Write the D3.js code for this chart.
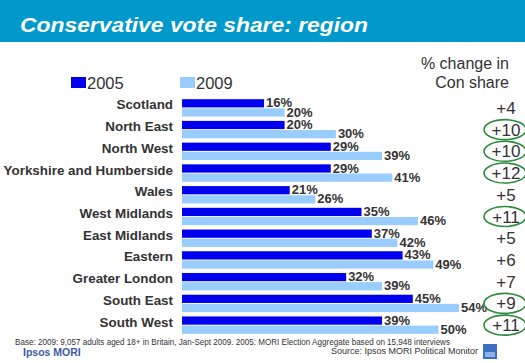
<!DOCTYPE html>
<html>
<head>
<meta charset="utf-8">
<script src="https://cdn.jsdelivr.net/npm/d3@7"></script>
<style>
  body { margin: 0; background: #fff; }
  svg { display: block; font-family: Arial, "Liberation Sans", sans-serif; }
</style>
</head>
<body>
<div id="chart"></div>
<script>
// data
const regions = ['Scotland', 'North East', 'North West', 'Yorkshire and Humberside', 'Wales',
  'West Midlands', 'East Midlands', 'Eastern', 'Greater London', 'South East', 'South West'];
const share2005 = [16, 20, 29, 29, 21, 35, 37, 43, 32, 45, 39];
const share2009 = [20, 30, 39, 41, 26, 46, 42, 49, 39, 54, 50];
const changeLabels = ['+4', '+10', '+10', '+12', '+5', '+11', '+5', '+6', '+7', '+9', '+11'];
const circled = [false, true, true, true, false, true, false, false, false, true, true];
const years = ['2005', '2009'];

const width = 525, height = 363;
const colors = { '2005': '#0000ee', '2009': '#99ccff' };

const svg = d3.select('#chart').append('svg')
  .attr('width', width)
  .attr('height', height);

// title band
svg.append('rect').attr('x', 0).attr('y', 0).attr('width', width).attr('height', 42).attr('fill', '#0099cc');
svg.append('text')
  .attr('x', 20).attr('y', 32)
  .attr('fill', '#fff')
  .attr('font-size', 21).attr('font-weight', 'bold').attr('font-style', 'italic')
  .attr('textLength', 348).attr('lengthAdjust', 'spacingAndGlyphs')
  .text('Conservative vote share: region');

// scales
const x = d3.scaleLinear().domain([0, 54]).range([182, 459]);
const y = d3.scaleBand().domain(regions).range([97, 336]).paddingInner(0.2).paddingOuter(0.1);
const ySub = d3.scaleBand().domain(years).range([0, y.bandwidth()]).paddingInner(0.1);

const rows = regions.map((r, i) => ({
  region: r,
  values: [{ year: '2005', v: share2005[i] }, { year: '2009', v: share2009[i] }],
  change: changeLabels[i],
  circled: circled[i]
}));

const row = svg.selectAll('g.row').data(rows).enter().append('g')
  .attr('class', 'row')
  .attr('transform', d => `translate(0,${y(d.region)})`);

// category labels
row.append('text')
  .attr('x', 173)
  .attr('y', y.bandwidth() / 2 + 1.5)
  .attr('text-anchor', 'end')
  .attr('font-size', 13.4).attr('font-weight', 'bold')
  .attr('fill', '#333')
  .text(d => d.region);

// bars
row.selectAll('rect').data(d => d.values).enter().append('rect')
  .attr('x', x(0))
  .attr('y', d => ySub(d.year))
  .attr('width', d => x(d.v) - x(0))
  .attr('height', ySub.bandwidth())
  .attr('fill', d => colors[d.year]);

// value labels
row.selectAll('text.val').data(d => d.values).enter().append('text')
  .attr('class', 'val')
  .attr('x', d => x(d.v) + 2)
  .attr('y', d => ySub(d.year) + ySub.bandwidth())
  .attr('font-size', 13).attr('font-weight', 'bold')
  .attr('fill', '#333')
  .text(d => d.v + '%');

// change column
row.append('text')
  .attr('x', 506)
  .attr('y', y.bandwidth() / 2 + 6)
  .attr('text-anchor', 'middle')
  .attr('font-size', 17)
  .attr('fill', '#333')
  .text(d => d.change);

row.filter(d => d.circled).append('ellipse')
  .attr('cx', 505)
  .attr('cy', y.bandwidth() / 2)
  .attr('rx', 21).attr('ry', 10)
  .attr('fill', 'none')
  .attr('stroke', '#2e8b3e')
  .attr('stroke-width', 1.6);

// column header
svg.append('text').attr('x', 509).attr('y', 69).attr('text-anchor', 'end')
  .attr('font-size', 16).attr('fill', '#333').text('% change in');
svg.append('text').attr('x', 509).attr('y', 88).attr('text-anchor', 'end')
  .attr('font-size', 16).attr('fill', '#333').text('Con share');

// legend
const legend = svg.selectAll('g.legend').data(years).enter().append('g')
  .attr('class', 'legend')
  .attr('transform', (d, i) => `translate(${71 + i * 109},77)`);
legend.append('rect').attr('width', 15).attr('height', 11).attr('fill', d => colors[d]);
legend.append('text').attr('x', 16).attr('y', 12)
  .attr('font-size', 16.5).attr('fill', '#333').text(d => d);

// footer
svg.append('text').attr('x', 15).attr('y', 345)
  .attr('font-size', 8.5).attr('fill', '#333')
  .attr('textLength', 435).attr('lengthAdjust', 'spacingAndGlyphs')
  .text('Base: 2009: 9,057 adults aged 18+ in Britain, Jan-Sept 2009. 2005: MORI Election Aggregate based on 15,948 interviews');
svg.append('text').attr('x', 23).attr('y', 356)
  .attr('font-size', 10.5).attr('font-weight', 'bold').attr('fill', '#3b5ba5')
  .text('Ipsos MORI');
svg.append('text').attr('x', 478).attr('y', 354).attr('text-anchor', 'end')
  .attr('font-size', 9).attr('fill', '#333')
  .text('Source: Ipsos MORI Political Monitor');
svg.append('rect').attr('x', 483).attr('y', 344).attr('width', 14).attr('height', 15).attr('fill', '#3a6fc4');
svg.append('rect').attr('x', 485).attr('y', 352).attr('width', 10).attr('height', 5).attr('fill', '#8fb3e8');
</script>
</body>
</html>
